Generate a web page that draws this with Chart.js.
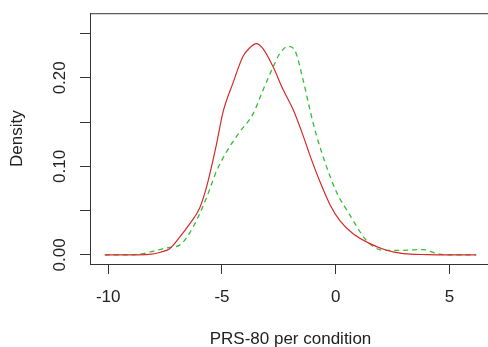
<!DOCTYPE html>
<html>
<head>
<meta charset="utf-8">
<script src="https://cdn.jsdelivr.net/npm/chart.js@4.4.0/dist/chart.umd.min.js"></script>
<style>
  html, body { margin: 0; padding: 0; background: #fff; overflow: hidden; }
  #wrap { position: absolute; left: 0; top: 0; width: 500px; height: 350px; }
</style>
</head>
<body>
<div id="wrap"><canvas id="chart"></canvas></div>
<script>
// density estimates
const redX = [-10.15, -9.0, -8.2, -7.7, -7.3, -6.86, -6.42, -5.98, -5.69, -5.25, -4.96, -4.52, -4.08, -3.78, -3.49, -3.2, -2.76, -2.32, -1.88, -1.44, -1.14, -0.7, -0.26, 0.18, 0.76, 1.5, 2.23, 2.96, 4.0, 5.0, 6.17];
const redY = [0, 0, 0.0005, 0.003, 0.007, 0.02, 0.035, 0.053, 0.0756, 0.124, 0.1608, 0.194, 0.224, 0.234, 0.2386, 0.233, 0.2127, 0.187, 0.1644, 0.135, 0.1127, 0.083, 0.057, 0.0386, 0.0238, 0.0127, 0.0052, 0.0015, 0.0003, 0, 0];

const greenX = [-10.15, -9.2, -8.47, -7.74, -7.3, -6.86, -6.28, -5.69, -5.25, -4.81, -4.22, -3.64, -3.2, -2.76, -2.46, -2.1, -1.8, -1.44, -1.14, -0.85, -0.41, 0.03, 0.62, 1.35, 2.08, 2.96, 3.84, 4.43, 5.0, 6.17];
const greenY = [0, 0, 0.0015, 0.006, 0.0085, 0.011, 0.031, 0.064, 0.094, 0.116, 0.139, 0.159, 0.186, 0.212, 0.2275, 0.2356, 0.231, 0.198, 0.1644, 0.135, 0.1, 0.071, 0.045, 0.0163, 0.0052, 0.0052, 0.006, 0.0015, 0, 0];

const xTicks = [-10, -5, 0, 5];
const yTicks = [0, 0.05, 0.10, 0.15, 0.20, 0.25];
const yLabeled = [0, 0.10, 0.20];

const toPoints = (xs, ys) => xs.map((x, i) => ({ x: x, y: ys[i] }));

const font = { family: '"Liberation Sans", Arial, sans-serif', size: 17 };
const axisColor = '#333';

// R-style box around the plot region
const boxPlugin = {
  id: 'box',
  afterDraw(chart) {
    const { ctx, chartArea: a } = chart;
    ctx.save();
    ctx.strokeStyle = axisColor;
    ctx.lineWidth = 1;
    ctx.strokeRect(a.left + 0.5, a.top + 0.5, a.right - a.left, a.bottom - a.top);
    ctx.restore();
  }
};

new Chart(document.getElementById('chart').getContext('2d'), {
  type: 'scatter',
  data: {
    datasets: [{
      data: toPoints(redX, redY),
      showLine: true,
      borderColor: 'rgb(218, 40, 40)',
      borderWidth: 1.2,
      pointRadius: 0,
      cubicInterpolationMode: 'monotone'
    }, {
      data: toPoints(greenX, greenY),
      showLine: true,
      borderColor: 'rgb(52, 190, 52)',
      borderWidth: 1.3,
      borderDash: [5, 4],
      pointRadius: 0,
      cubicInterpolationMode: 'monotone'
    }]
  },
  options: {
    responsive: true,
    maintainAspectRatio: false,
    animation: false,
    layout: { padding: { top: 9, right: 9, left: 0, bottom: 0 } },
    plugins: {
      legend: { display: false },
      tooltip: { enabled: false }
    },
    scales: {
      x: {
        type: 'linear',
        min: -10.8,
        max: 6.82,
        afterFit(s) { s.height = 86; },
        afterBuildTicks(s) { s.ticks = xTicks.map(v => ({ value: v })); },
        grid: { drawOnChartArea: false, drawTicks: true, tickLength: 10, color: axisColor },
        border: { display: true, color: axisColor },
        ticks: { font: font, color: '#222', padding: 13, maxRotation: 0, callback: v => String(v) },
        title: { display: true, text: 'PRS-80 per condition', font: font, color: '#222', padding: { top: 0, bottom: 0 } }
      },
      y: {
        min: -0.0103,
        max: 0.273,
        afterFit(s) { s.width = 90; },
        afterBuildTicks(s) { s.ticks = yTicks.map(v => ({ value: v })); },
        grid: { drawOnChartArea: false, drawTicks: true, tickLength: 10, color: axisColor },
        border: { display: true, color: axisColor },
        ticks: {
          font: font,
          color: '#222',
          padding: 3,
          minRotation: 90,
          maxRotation: 90,
          crossAlign: 'center',
          callback: v => yLabeled.some(t => Math.abs(t - v) < 1e-9) ? v.toFixed(2) : ''
        },
        title: { display: true, text: 'Density', font: font, color: '#222', padding: { top: 7, bottom: 0 } }
      }
    }
  },
  plugins: [boxPlugin]
});
</script>
</body>
</html>
